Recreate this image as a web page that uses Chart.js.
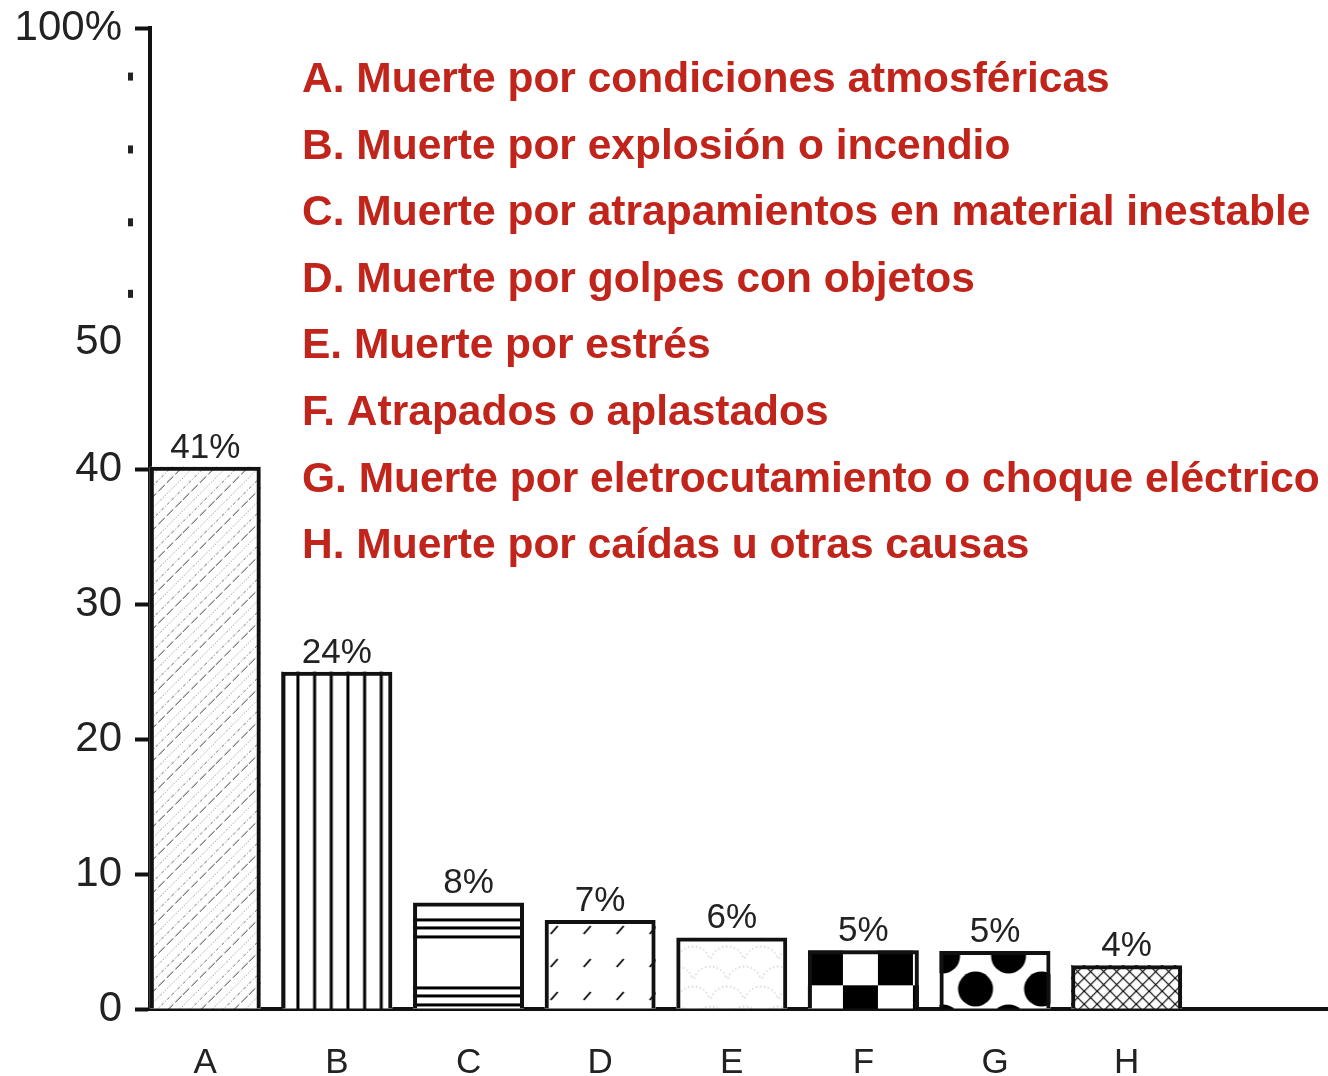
<!DOCTYPE html>
<html lang="es">
<head>
<meta charset="utf-8">
<script src="https://cdn.jsdelivr.net/npm/chart.js@4.4.1/dist/chart.umd.min.js"></script>
<style>
  html, body { margin: 0; padding: 0; background: #fff; }
  #contenedor { width: 1328px; height: 1076px; }
</style>
</head>
<body>
<div id="contenedor"><canvas id="grafico"></canvas></div>
<script>
// Datos del gráfico
const categorias = ['A', 'B', 'C', 'D', 'E', 'F', 'G', 'H'];
const alturas = [40.2, 25, 7.9, 6.6, 5.3, 4.35, 4.3, 3.25]; // altura dibujada de cada barra
const porcentajes = ['41%', '24%', '8%', '7%', '6%', '5%', '5%', '4%'];
const leyenda = [
    'A. Muerte por condiciones atmosféricas',
    'B. Muerte por explosión o incendio',
    'C. Muerte por atrapamientos en material inestable',
    'D. Muerte por golpes con objetos',
    'E. Muerte por estrés',
    'F. Atrapados o aplastados',
    'G. Muerte por eletrocutamiento o choque eléctrico',
    'H. Muerte por caídas u otras causas'
];

// Eje Y quebrado: por encima de 40 la escala se comprime
const ejeReal = [0, 40, 50, 60, 70, 80, 90, 100];
const ejeVisual = [0, 40, 49.4, 53, 58.3, 63.7, 69.1, 72.7];
const ticksConMarca = [0, 10, 20, 30, 40, 100];
const ticksConPunto = [60, 70, 80, 90];

const fuente = "'Liberation Sans', Arial, Helvetica, sans-serif";
const rojo = '#c1241a';
const gris = '#222';

function interpolar(v, de, a) {
    for (let i = 1; i < de.length; i++) {
        if (v <= de[i] || i === de.length - 1) {
            const t = (v - de[i - 1]) / (de[i] - de[i - 1]);
            return a[i - 1] + t * (a[i] - a[i - 1]);
        }
    }
}

class EscalaQuebrada extends Chart.LinearScale {
    getPixelForValue(v) {
        if (v === null || v === undefined) return NaN;
        const tope = interpolar(this.max, ejeReal, ejeVisual);
        return this.getPixelForDecimal(interpolar(v, ejeReal, ejeVisual) / tope);
    }
    getValueForPixel(p) {
        const tope = interpolar(this.max, ejeReal, ejeVisual);
        return interpolar(this.getDecimalForPixel(p) * tope, ejeVisual, ejeReal);
    }
}
EscalaQuebrada.id = 'quebrada';
EscalaQuebrada.defaults = {};
Chart.register(EscalaQuebrada);

// Tramas de relleno de cada barra
function tile(w, h, dibujar) {
    const c = document.createElement('canvas');
    c.width = w; c.height = h;
    const g = c.getContext('2d');
    g.fillStyle = '#fff';
    g.fillRect(0, 0, w, h);
    dibujar(g, w, h);
    return c;
}

const tramas = [
    // A: diagonales finas punteadas
    { dx: 0, dy: 0, lienzo: tile(33, 33, (g, w, h) => {
        const lineas = [[0, '#333', [9, 3]], [11, '#777', [1, 2]], [22, '#666', [3, 2, 1, 2]]];
        lineas.forEach(([off, color, dash]) => {
            g.strokeStyle = color; g.lineWidth = 1; g.setLineDash(dash);
            [-w, 0, w].forEach(k => {
                g.beginPath(); g.moveTo(k + off, h); g.lineTo(k + off + w, 0); g.stroke();
            });
        });
    }) },
    // B: rayas verticales
    { dx: 15, dy: 0, lienzo: tile(50, 10, (g) => {
        g.fillStyle = '#000';
        [0, 16.7, 33.3].forEach(x => g.fillRect(x, 0, 3, 10));
    }) },
    // C: grupos de rayas horizontales
    { dx: 0, dy: 0, lienzo: tile(10, 68, (g) => {
        g.fillStyle = '#000';
        [16, 24, 33].forEach(y => g.fillRect(0, y, 10, 3));
    }) },
    // D: trazos cortos diagonales
    { dx: 0, dy: 0, lienzo: tile(33, 33, (g) => {
        g.strokeStyle = '#000'; g.lineWidth = 1.8;
        g.beginPath(); g.moveTo(6, 14); g.lineTo(13, 6); g.stroke();
    }) },
    // E: escamas punteadas
    { dx: 0, dy: 6, lienzo: tile(34, 40, (g) => {
        g.strokeStyle = '#888'; g.lineWidth = 1; g.setLineDash([1, 3]);
        g.beginPath(); g.arc(17, 20, 17, Math.PI * 1.1, Math.PI * 1.9); g.stroke();
        [0, 34].forEach(cx => { g.beginPath(); g.arc(cx, 40, 17, Math.PI * 1.1, Math.PI * 1.9); g.stroke(); });
    }) },
    // F: damero
    { dx: 0, dy: 0, lienzo: tile(70, 70, (g) => {
        g.fillStyle = '#000';
        g.fillRect(0, 0, 35, 35); g.fillRect(35, 35, 35, 35);
    }) },
    // G: lunares grandes
    { dx: 3, dy: 5, lienzo: tile(66, 66, (g) => {
        g.fillStyle = '#000';
        [[0, 0], [66, 0], [0, 66], [66, 66], [33, 33]].forEach(([cx, cy]) => {
            g.beginPath(); g.arc(cx, cy, 17.5, 0, 2 * Math.PI); g.fill();
        });
    }) },
    // H: rejilla de rombos
    { dx: 0, dy: 0, lienzo: tile(13, 13, (g, w, h) => {
        g.strokeStyle = '#000'; g.lineWidth = 1.2;
        g.beginPath(); g.moveTo(0, 0); g.lineTo(w, h); g.moveTo(0, h); g.lineTo(w, 0); g.stroke();
    }) }
];

const pluginTramas = {
    id: 'tramas',
    beforeDatasetsDraw(chart) {
        const ctx = chart.ctx;
        chart.getDatasetMeta(0).data.forEach((barra, i) => {
            const { x, y, base, width } = barra.getProps(['x', 'y', 'base', 'width'], true);
            const izq = x - width / 2;
            const t = tramas[i];
            const patron = ctx.createPattern(t.lienzo, 'repeat');
            patron.setTransform(new DOMMatrix().translate(izq + t.dx, y + t.dy));
            ctx.save();
            ctx.fillStyle = patron;
            ctx.fillRect(izq, y, width, base - y);
            ctx.restore();
        });
    }
};

const pluginEtiquetas = {
    id: 'etiquetas',
    afterDatasetsDraw(chart) {
        const ctx = chart.ctx;
        ctx.save();
        ctx.font = '35px ' + fuente;
        ctx.fillStyle = gris;
        ctx.textAlign = 'center';
        ctx.textBaseline = 'alphabetic';
        chart.getDatasetMeta(0).data.forEach((barra, i) => {
            ctx.fillText(porcentajes[i], barra.x, barra.y - 9);
        });
        ctx.restore();
    }
};

const pluginLeyenda = {
    id: 'leyendaTexto',
    afterDraw(chart) {
        const ctx = chart.ctx;
        const area = chart.chartArea;
        const y = chart.scales.y;
        ctx.save();
        // puntos del tramo comprimido del eje
        ctx.fillStyle = gris;
        ticksConPunto.forEach(v => {
            const py = y.getPixelForValue(v);
            ctx.fillRect(area.left - 22, py - 4, 5, 8);
        });
        ctx.font = 'bold 42.5px ' + fuente;
        ctx.fillStyle = rojo;
        ctx.textAlign = 'left';
        ctx.textBaseline = 'alphabetic';
        leyenda.forEach((txt, i) => {
            ctx.fillText(txt, area.left + 152, area.top + 64 + i * 66.6);
        });
        ctx.restore();
    }
};

const ctx = document.getElementById('grafico').getContext('2d');
new Chart(ctx, {
    type: 'bar',
    data: {
        datasets: [{
            data: alturas.map((v, i) => ({ x: i, y: v })),
            backgroundColor: 'rgba(0,0,0,0)',
            borderColor: '#111',
            borderWidth: 4,
            categoryPercentage: 1,
            barPercentage: 0.843
        }]
    },
    options: {
        responsive: true,
        maintainAspectRatio: false,
        animation: false,
        layout: { padding: { top: 28, right: 0, left: 0, bottom: 0 } },
        plugins: {
            legend: { display: false },
            tooltip: { enabled: false }
        },
        scales: {
            x: {
                type: 'linear',
                offset: false,
                min: -0.42,
                max: 8.53,
                grid: { display: false, offset: false },
                border: { display: true, color: '#111', width: 4 },
                ticks: {
                    stepSize: 1,
                    includeBounds: false,
                    autoSkip: false,
                    maxRotation: 0,
                    padding: 25,
                    color: gris,
                    font: { family: fuente, size: 35 },
                    callback: v => categorias[v] ?? ''
                },
                afterFit: s => { s.height = 67; }
            },
            y: {
                type: 'quebrada',
                min: 0,
                max: 100,
                grid: {
                    drawOnChartArea: false,
                    tickLength: 15,
                    tickWidth: 4,
                    tickColor: c => (c.tick && ticksConMarca.includes(c.tick.value)) ? '#111' : 'rgba(0,0,0,0)'
                },
                border: { display: true, color: '#111', width: 4 },
                ticks: {
                    stepSize: 10,
                    autoSkip: false,
                    padding: 13,
                    color: gris,
                    font: { family: fuente, size: 42 },
                    callback: v => v === 100 ? '100%' : (v <= 50 ? String(v) : '')
                },
                afterFit: s => { s.width = 150; s.paddingTop = 0; s.paddingBottom = 0; }
            }
        }
    },
    plugins: [pluginTramas, pluginEtiquetas, pluginLeyenda]
});
</script>
</body>
</html>
